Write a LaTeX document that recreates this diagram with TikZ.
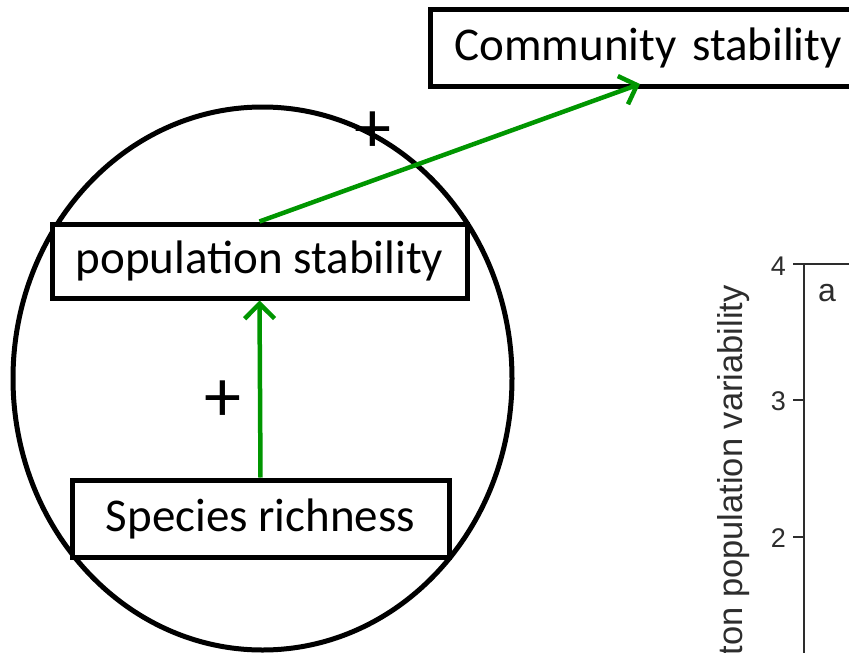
\documentclass[tikz,border=0pt]{standalone}
\usepackage{fontspec}
\setmainfont{Carlito}
\newfontfamily\plotfont{Liberation Sans}
\usetikzlibrary{arrows.meta,shapes.geometric}
\definecolor{arrgreen}{RGB}{0,150,0}
\definecolor{plotgray}{RGB}{45,45,45}
\tikzset{
  boxnode/.style={draw=black, line width=5pt, fill=white, inner sep=0pt, font=\fontsize{47}{56}\selectfont},
  greenarrow/.style={draw=arrgreen, line width=4.5pt, -{Straight Barb[length=15pt,width=30pt,line width=4.5pt]}},
  plusnode/.style={font=\fontsize{74}{80}\selectfont, inner sep=0pt},
  plotline/.style={draw=plotgray, line width=1.5pt},
  ticklabel/.style={font=\plotfont\fontsize{27}{30}\selectfont, text=plotgray, inner sep=0pt, anchor=east},
}
\begin{document}
\begin{tikzpicture}[x=1pt,y=-1pt]
\useasboundingbox (0,0) rectangle (849,653);
\clip (0,0) rectangle (849,653);
% ellipse
\node[draw=black, line width=5pt, ellipse, minimum width=499pt, minimum height=543pt, inner sep=0pt] (ell) at (262.5,378.5) {};
% boxes
\node[boxnode, minimum width=415pt, minimum height=74pt] (pop) at (259.5,261) {population stability};
\node[boxnode, minimum width=377pt, minimum height=77pt] (spec) at (260.5,518.5) {Species richness};
\node[boxnode, anchor=north west, minimum height=77pt, text width=430pt, inner xsep=24pt, align=left] (comm) at (428,7) {Community stability};
\coordinate (commin) at (640,84);
% arrows
\draw[greenarrow] (spec.north) -- (pop.south);
\draw[greenarrow] (pop.north) -- (commin);
% plus signs
\node[plusnode] (plusA) at (373,132) {+};
\node[plusnode] (plusB) at (223,401) {+};
% plot fragment
\coordinate (axtop) at (804,264);
\coordinate (axbot) at (804,660);
\coordinate (tick4) at (793,264);
\coordinate (boxright) at (860,264);
\coordinate (tick3a) at (793,400);
\coordinate (tick3b) at (804,400);
\coordinate (tick2a) at (793,537);
\coordinate (tick2b) at (804,537);
\draw[plotline] (axtop) -- (axbot);
\draw[plotline] (tick4) -- (boxright);
\draw[plotline] (tick3a) -- (tick3b);
\draw[plotline] (tick2a) -- (tick2b);
\node[ticklabel] (l4) at (786,266) {4};
\node[ticklabel] (l3) at (786,401) {3};
\node[ticklabel] (l2) at (786,538) {2};
\node[font=\plotfont\fontsize{32}{36}\selectfont, text=plotgray, inner sep=0pt] (la) at (827,293) {a};
\node[font=\plotfont\fontsize{34.5}{38}\selectfont, text=plotgray, inner sep=0pt, rotate=90, anchor=base east] (ylab) at (742,285) {ton population variability};
\end{tikzpicture}
\end{document}
